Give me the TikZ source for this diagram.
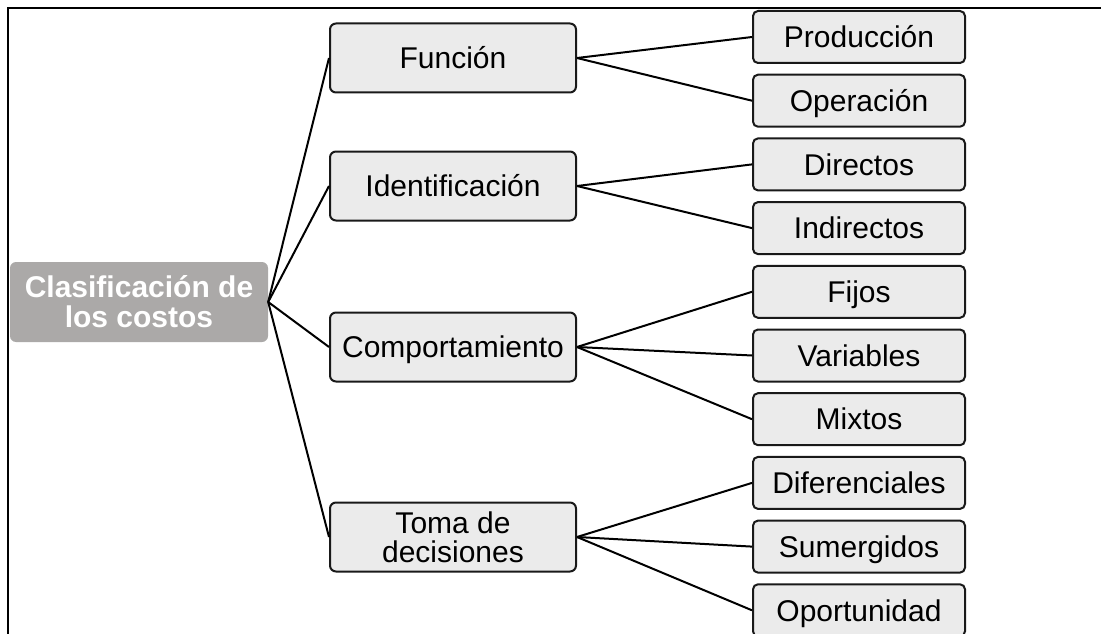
\documentclass[tikz,border=0pt]{standalone}
\usepackage{fontspec}
\setmainfont{Liberation Sans}
\usetikzlibrary{positioning}
\definecolor{rootgray}{RGB}{171,169,168}
\definecolor{boxgray}{RGB}{235,235,235}
\tikzset{root node/.style={rectangle,rounded corners=6pt,fill=rootgray,text=white,align=center,font=\fontsize{30}{30}\selectfont\bfseries,minimum width=258pt,minimum height=80pt,inner sep=0pt},
cat node/.style={rectangle,rounded corners=6pt,draw=black!90,line width=2pt,fill=boxgray,font=\fontsize{30}{29}\selectfont,minimum width=246pt,minimum height=69pt,inner sep=0pt,text height=21.5pt,text depth=0pt},
leaf node/.style={rectangle,rounded corners=5pt,draw=black!90,line width=2pt,fill=boxgray,font=\fontsize{30}{30}\selectfont,minimum width=212pt,minimum height=52pt,inner sep=0pt,text height=21.5pt,text depth=0pt},}
\begin{document}
\begin{tikzpicture}[x=1pt, y=-1pt]
   \useasboundingbox (0,0) rectangle (1101,634);
   \draw[line width=2pt] (8,634) -- (8,8) -- (1101,8);
   \node[root node] (0) at (139,302) {Clasificación de\\los costos};
   \node[cat node] (1) at (453,58) {Función};
   \node[cat node] (2) at (453,186) {Identificación};
   \node[cat node] (3) at (453,347) {Comportamiento};
   \node[cat node, text height=, text depth=, align=center] (4) at (453,537) {Toma de\\decisiones};
   \node[leaf node] (5) at (859,37) {Producción};
   \node[leaf node] (6) [below = 9.7pt of 5]{Operación};
   \node[leaf node] (7) [below = 9.7pt of 6]{Directos};
   \node[leaf node] (8) [below = 9.7pt of 7]{Indirectos};
   \node[leaf node] (9) [below = 9.7pt of 8]{Fijos};
   \node[leaf node] (10) [below = 9.7pt of 9]{Variables};
   \node[leaf node] (11) [below = 9.7pt of 10]{Mixtos};
   \node[leaf node] (12) [below = 9.7pt of 11]{Diferenciales};
   \node[leaf node] (13) [below = 9.7pt of 12]{Sumergidos};
   \node[leaf node] (14) [below = 9.7pt of 13]{Oportunidad};
   \path[draw, line width=2pt]
   (0.east) edge (1.west)
   (0.east) edge (2.west)
   (0.east) edge (3.west)
   (0.east) edge (4.west)
   (1.east) edge (5.west)
   (1.east) edge (6.west)
   (2.east) edge (7.west)
   (2.east) edge (8.west)
   (3.east) edge (9.west)
   (3.east) edge (10.west)
   (3.east) edge (11.west)
   (4.east) edge (12.west)
   (4.east) edge (13.west)
   (4.east) edge (14.west);
\end{tikzpicture}
\end{document}
